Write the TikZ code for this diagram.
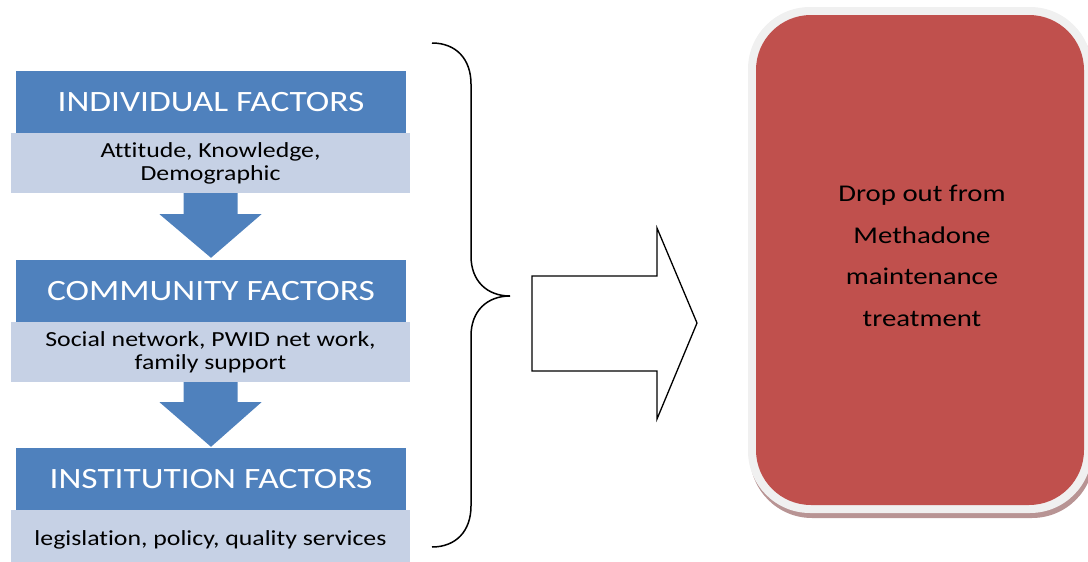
\documentclass[tikz,border=0pt]{standalone}
\usepackage{fontspec}
\setmainfont[FakeStretch=1.2, Ligatures={NoCommon}]{Carlito}
\usetikzlibrary{calc}

\definecolor{hdrblue}{HTML}{4F81BD}
\definecolor{subblue}{HTML}{C6D1E5}
\definecolor{dropred}{HTML}{C0504D}
\definecolor{rimgray}{HTML}{F0F0F0}
\definecolor{rimshadow}{HTML}{B89494}

\tikzset{
  hdr/.style={fill=hdrblue, text=white, minimum width=390pt, minimum height=62pt,
    inner sep=0pt, font=\fontsize{29.5}{33}\selectfont},
  sub/.style={fill=subblue, text=black, minimum width=399pt, minimum height=60pt,
    inner sep=0pt, align=center, font=\fontsize{21.5}{23}\selectfont},
  downarrow/.style={fill=hdrblue},
  brace/.style={draw=black, line width=1.5pt},
  bigarrow/.style={draw=black, line width=1.3pt, line join=miter},
  outcome/.style={text=black, align=center, font=\fontsize{24}{41.5}\selectfont}
}

\begin{document}
\begin{tikzpicture}[x=1pt, y=-1pt]
\useasboundingbox (0,0) rectangle (1088,562);

% factor blocks: header bar with its description band
\node[hdr] (h1) at (211,102) {INDIVIDUAL FACTORS};
\node[sub] (s1) at (210.5,163) {Attitude, Knowledge,\\Demographic};
\node[hdr] (h2) at (211,291) {COMMUNITY FACTORS};
\node[sub] (s2) at (210.5,352) {Social network, PWID net work,\\family support};
\node[hdr] (h3) at (211,479) {INSTITUTION FACTORS};
\node[sub] (s3) at (210.5,540) {legislation, policy, quality services};

% block arrows between the levels
\fill[downarrow] ($(s1.south)+(-27,0)$) -- ($(s1.south)+(27,0)$) -- ($(s1.south)+(27,21)$)
  -- ($(s1.south)+(51,21)$) -- ($(h2.north)+(0,-2)$) -- ($(s1.south)+(-51,21)$)
  -- ($(s1.south)+(-27,21)$) -- cycle;
\fill[downarrow] ($(s2.south)+(-27,0)$) -- ($(s2.south)+(27,0)$) -- ($(s2.south)+(27,20)$)
  -- ($(s2.south)+(51,20)$) -- ($(h3.north)+(0,-1)$) -- ($(s2.south)+(-51,20)$)
  -- ($(s2.south)+(-27,20)$) -- cycle;

% curly brace grouping the three levels
\coordinate (bt) at (432,43);
\coordinate (bm) at (510,296);
\coordinate (bb) at (432,547);
\draw[brace] (bt) .. controls (456,43) and (471,59) .. (471,84) -- (471,256)
  .. controls (471,281) and (487,296) .. (bm)
  .. controls (487,296) and (471,311) .. (471,336) -- (471,506)
  .. controls (471,531) and (456,547) .. (bb);

% outlined block arrow towards the outcome
\coordinate (atip) at (697,323);
\draw[bigarrow] (532,276) -- (657,276) -- (657,228) -- (atip) -- (657,419)
  -- (657,371) -- (532,371) -- cycle;

% outcome box with light rim and soft shadow
\fill[rimshadow, rounded corners=62pt] (750,12) rectangle (1094,518);
\fill[rimgray, rounded corners=62pt] (748,7) rectangle (1092,513);
\fill[dropred, rounded corners=55pt] (756,15) rectangle (1084,505);
\node[outcome] (out) at (922,256) {Drop out from\\Methadone\\maintenance\\treatment};
\end{tikzpicture}
\end{document}
